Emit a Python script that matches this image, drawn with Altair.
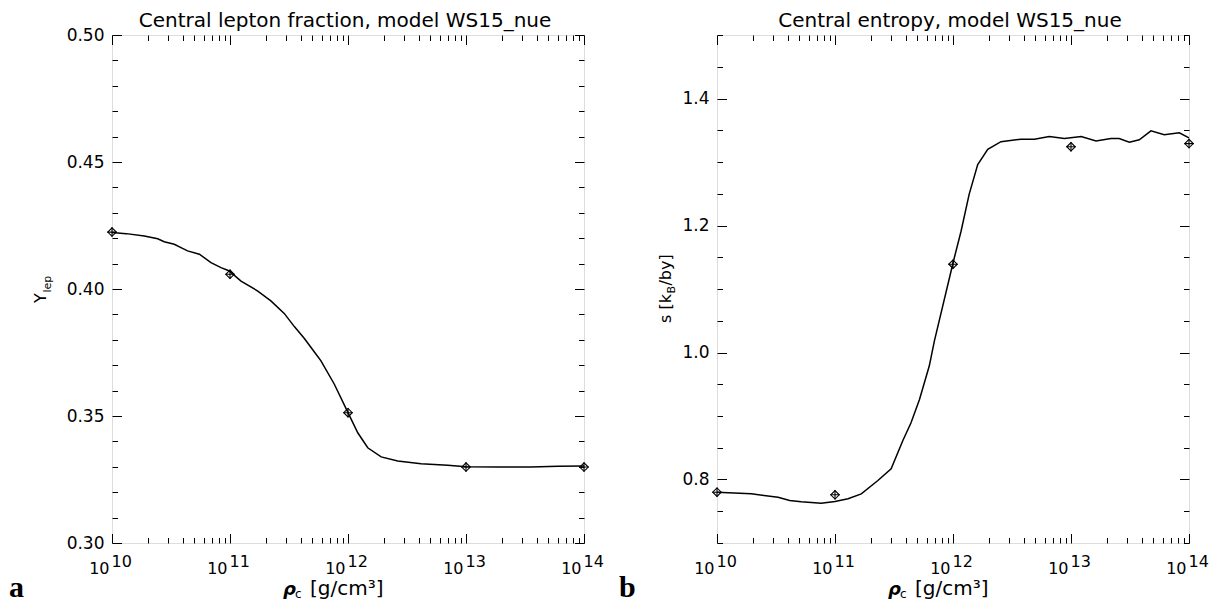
import altair as alt
import pandas as pd

FONT = "DejaVu Sans"
W, H = 472, 508

# ---------------- data ----------------
# Panel a: central lepton fraction
lep_rho = [1.00e10, 1.32e10, 1.88e10, 2.44e10, 2.77e10, 3.37e10, 3.96e10, 4.37e10,
           5.50e10, 6.90e10, 8.39e10, 9.55e10, 1.00e11, 1.24e11, 1.72e11, 2.22e11,
           2.88e11, 3.51e11, 4.27e11, 5.19e11, 5.90e11, 7.66e11, 1.00e12, 1.21e12,
           1.47e12, 1.91e12, 2.64e12, 4.16e12, 7.00e12, 1.00e13, 1.86e13, 3.55e13,
           6.03e13, 1.00e14]
lep_val = [0.4222, 0.4218, 0.4209, 0.4198, 0.4186, 0.4176, 0.4160, 0.4150,
           0.4137, 0.4104, 0.4084, 0.4074, 0.4068, 0.4031, 0.3992, 0.3953,
           0.3904, 0.3852, 0.3805, 0.3752, 0.3717, 0.3625, 0.3513, 0.3434,
           0.3375, 0.3339, 0.3323, 0.3312, 0.3306, 0.3300, 0.3299, 0.3299,
           0.3302, 0.3303]
lep_pts_rho = [1e10, 1e11, 1e12, 1e13, 1e14]
lep_pts_val = [0.4224, 0.4058, 0.3513, 0.3299, 0.3299]

# Panel b: central entropy
ent_rho = [1.00e10, 1.95e10, 3.29e10, 4.13e10, 5.18e10, 7.64e10, 1.00e11, 1.29e11,
           1.67e11, 2.31e11, 2.99e11, 3.76e11, 4.40e11, 5.20e11, 6.30e11, 6.95e11,
           1.00e12, 1.17e12, 1.37e12, 1.62e12, 1.97e12, 2.55e12, 3.77e12, 4.89e12,
           6.55e12, 8.79e12, 1.22e13, 1.63e13, 2.18e13, 2.56e13, 3.12e13, 3.79e13,
           4.76e13, 6.17e13, 8.28e13, 1.00e14]
ent_val = [0.780, 0.7774, 0.772, 0.767, 0.765, 0.7626, 0.7653, 0.7696,
           0.7774, 0.7984, 0.8168, 0.8615, 0.889, 0.926, 0.979, 1.018,
           1.141, 1.191, 1.249, 1.296, 1.320, 1.332, 1.336, 1.336,
           1.340, 1.337, 1.340, 1.333, 1.337, 1.337, 1.331, 1.335,
           1.349, 1.343, 1.346, 1.338]
ent_pts_rho = [1e10, 1e11, 1e12, 1e13, 1e14]
ent_pts_val = [0.780, 0.7759, 1.139, 1.324, 1.329]

# ---------------- ticks ----------------
X_MAJOR = [1e10, 1e11, 1e12, 1e13, 1e14]
X_MINOR = [m * d for d in [1e10, 1e11, 1e12, 1e13] for m in range(2, 10)]
LEP_MAJOR = [0.30, 0.35, 0.40, 0.45, 0.50]
LEP_MINOR = [round(0.30 + 0.01 * i, 2) for i in range(21) if i % 5]
ENT_MAJOR = [0.8, 1.0, 1.2, 1.4]
ENT_MINOR = [round(0.70 + 0.05 * i, 2) for i in range(17) if round(0.70 + 0.05 * i, 2) not in ENT_MAJOR]

MAJ, MIN = 9.5, 5.5


def tick_axis(orient, values, size):
    return alt.Axis(orient=orient, values=values, tickSize=size, offset=-size,
                    labels=False, domain=False, grid=False, title=None,
                    tickColor="black", tickWidth=1, minExtent=0)


def single():
    return alt.Chart(alt.Data(values=[{}]))


def txt(text, x, y, size=16, angle=0, align="left", weight="normal", style="normal",
        font=FONT):
    kw = dict(text=text, fontSize=size, align=align, baseline="alphabetic",
              font=font, fontWeight=weight, fontStyle=style, color="black")
    if angle:
        kw["angle"] = angle
    return single().mark_text(**kw).encode(x=alt.value(x), y=alt.value(y))


def panel(rho, val, prho, pval, ydom, ymaj, ymin, yfmt, title, extra):
    xs = alt.Scale(type="log", domain=[1e10, 1e14], nice=False)
    ys = alt.Scale(domain=ydom, nice=False, zero=False)
    ldf = pd.DataFrame({"rho": rho, "v": val})
    pdf = pd.DataFrame({"rho": prho, "v": pval})

    left_major = alt.Axis(orient="left", values=ymaj, tickSize=MAJ, offset=-MAJ,
                          labels=True, labelPadding=8, format=yfmt, labelFontSize=17,
                          labelFont=FONT, labelColor="black", domain=False, grid=False,
                          title=None, tickColor="black", tickWidth=1, minExtent=0)

    line = alt.Chart(ldf).mark_line(color="black", strokeWidth=1.5).encode(
        x=alt.X("rho:Q", scale=xs, axis=tick_axis("bottom", X_MAJOR, MAJ)),
        y=alt.Y("v:Q", scale=ys, axis=left_major))
    diam = alt.Chart(pdf).mark_point(shape="diamond", size=72, filled=False,
                                     stroke="black", strokeWidth=1.1, opacity=1).encode(
        x=alt.X("rho:Q", scale=xs, axis=tick_axis("bottom", X_MINOR, MIN)),
        y=alt.Y("v:Q", scale=ys, axis=tick_axis("left", ymin, MIN)))
    plus = alt.Chart(pdf).mark_point(shape="M-1,0H1M0,-1V1", size=90, filled=False,
                                     stroke="black", strokeWidth=1.1, opacity=1).encode(
        x=alt.X("rho:Q", scale=xs, axis=tick_axis("top", X_MAJOR, MAJ)),
        y=alt.Y("v:Q", scale=ys, axis=tick_axis("right", ymaj, MAJ)))
    ghost1 = alt.Chart(ldf).mark_line(opacity=0).encode(
        x=alt.X("rho:Q", scale=xs, axis=tick_axis("top", X_MINOR, MIN)),
        y=alt.Y("v:Q", scale=ys, axis=tick_axis("right", ymin, MIN)))
    base_lbl = alt.Chart(ldf).mark_line(opacity=0).encode(
        x=alt.X("rho:Q", scale=xs, axis=alt.Axis(
            orient="bottom", values=X_MAJOR, ticks=False, tickSize=0, domain=False,
            grid=False, title=None, labelExpr="'10'", labelAlign="right", labelOffset=-3,
            labelPadding=30, labelBaseline="alphabetic", labelFontSize=16,
            labelFont=FONT, labelColor="black", labelFlush=False, labelOverlap=False,
            minExtent=0)),
        y=alt.Y("v:Q", scale=ys, axis=None))
    exp_lbl = alt.Chart(ldf).mark_line(opacity=0).encode(
        x=alt.X("rho:Q", scale=xs, axis=alt.Axis(
            orient="bottom", values=X_MAJOR, ticks=False, tickSize=0, domain=False,
            grid=False, title=None,
            labelExpr="format(log(datum.value)/LN10, '.0f')", labelAlign="left",
            labelOffset=-1, labelPadding=23.5, labelBaseline="alphabetic",
            labelFontSize=16, labelFont=FONT, labelColor="black", labelFlush=False,
            labelOverlap=False, minExtent=0)),
        y=alt.Y("v:Q", scale=ys, axis=None))

    texts = [
        txt(title, W / 2 - 3, -8, size=20, align="center"),
        txt("ρ", 171, 560, size=18, weight="bold", style="italic"),
        txt("c", 183, 563, size=12),
        txt("[g/cm³]", 198, 560, size=20),
    ]
    layers = [line, diam, plus, ghost1, base_lbl, exp_lbl] + texts + extra
    return alt.layer(*layers).resolve_axis(x="independent", y="independent").properties(
        width=W, height=H)


left_extra = [
    txt("Y", -66, 268, size=16, angle=270),
    txt("lep", -61, 257.5, size=11, angle=270),
    txt("a", -103, 562, size=30, weight="bold", font="Liberation Serif"),
]
right_extra = [
    txt("s [k", -46, 288, size=16, angle=270),
    txt("B", -42, 258.6, size=11, angle=270),
    txt("/by]", -46, 250.6, size=16, angle=270),
    txt("b", -98, 562, size=30, weight="bold", font="Liberation Serif"),
]

left = panel(lep_rho, lep_val, lep_pts_rho, lep_pts_val, [0.30, 0.50], LEP_MAJOR,
             LEP_MINOR, ".2f", "Central lepton fraction, model WS15_nue", left_extra)
right = panel(ent_rho, ent_val, ent_pts_rho, ent_pts_val, [0.70, 1.50], ENT_MAJOR,
              ENT_MINOR, ".1f", "Central entropy, model WS15_nue", right_extra)

chart = alt.hconcat(left, right, spacing=133, bounds="flush",
                    padding={"left": 0, "top": 2, "right": 0, "bottom": 0}).configure_view(
    stroke="black", strokeWidth=1.2).configure_axis(grid=False, minExtent=0).configure(
    background="white")

chart.save("out.html", embed_options={"renderer": "svg", "actions": False})
